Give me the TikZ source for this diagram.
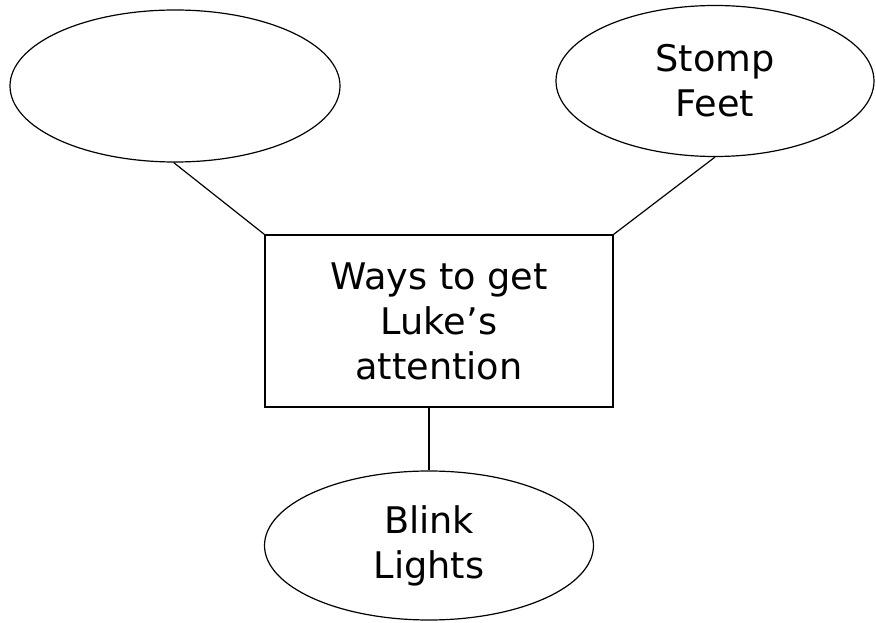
\documentclass[tikz,border=0pt]{standalone}
\usepackage{fontspec}
\setmainfont{DejaVu Sans}
\usetikzlibrary{shapes.geometric}
\begin{document}
\begin{tikzpicture}[x=0.75pt,y=-0.75pt,
  every node/.style={font=\fontsize{27.5}{33.75}\selectfont, align=center, inner sep=0pt},
  oval/.style={draw=black, line width=0.9pt, ellipse, minimum width=#1},
  box/.style={draw=black, line width=0.9pt, rectangle, minimum width=348*0.75pt, minimum height=172*0.75pt},
  link/.style={draw=black, line width=0.9pt}]
\useasboundingbox (0,0) rectangle (876,623);
\node[oval=330*0.75pt, minimum height=152*0.75pt] (empty) at (175,86) {};
\node[oval=318*0.75pt, minimum height=151*0.75pt] (stomp) at (715,81) {Stomp\\Feet};
\node[box] (main) at (439,321) {Ways to get\\Luke’s\\attention};
\node[oval=329*0.75pt, minimum height=149*0.75pt] (blink) at (429,545.5) {Blink\\Lights};
\draw[link] (empty.-91) -- (main.north west);
\draw[link] (stomp.south) -- (main.north east);
\draw[link] (blink.north |- main.south) -- (blink.north);
\end{tikzpicture}
\end{document}
